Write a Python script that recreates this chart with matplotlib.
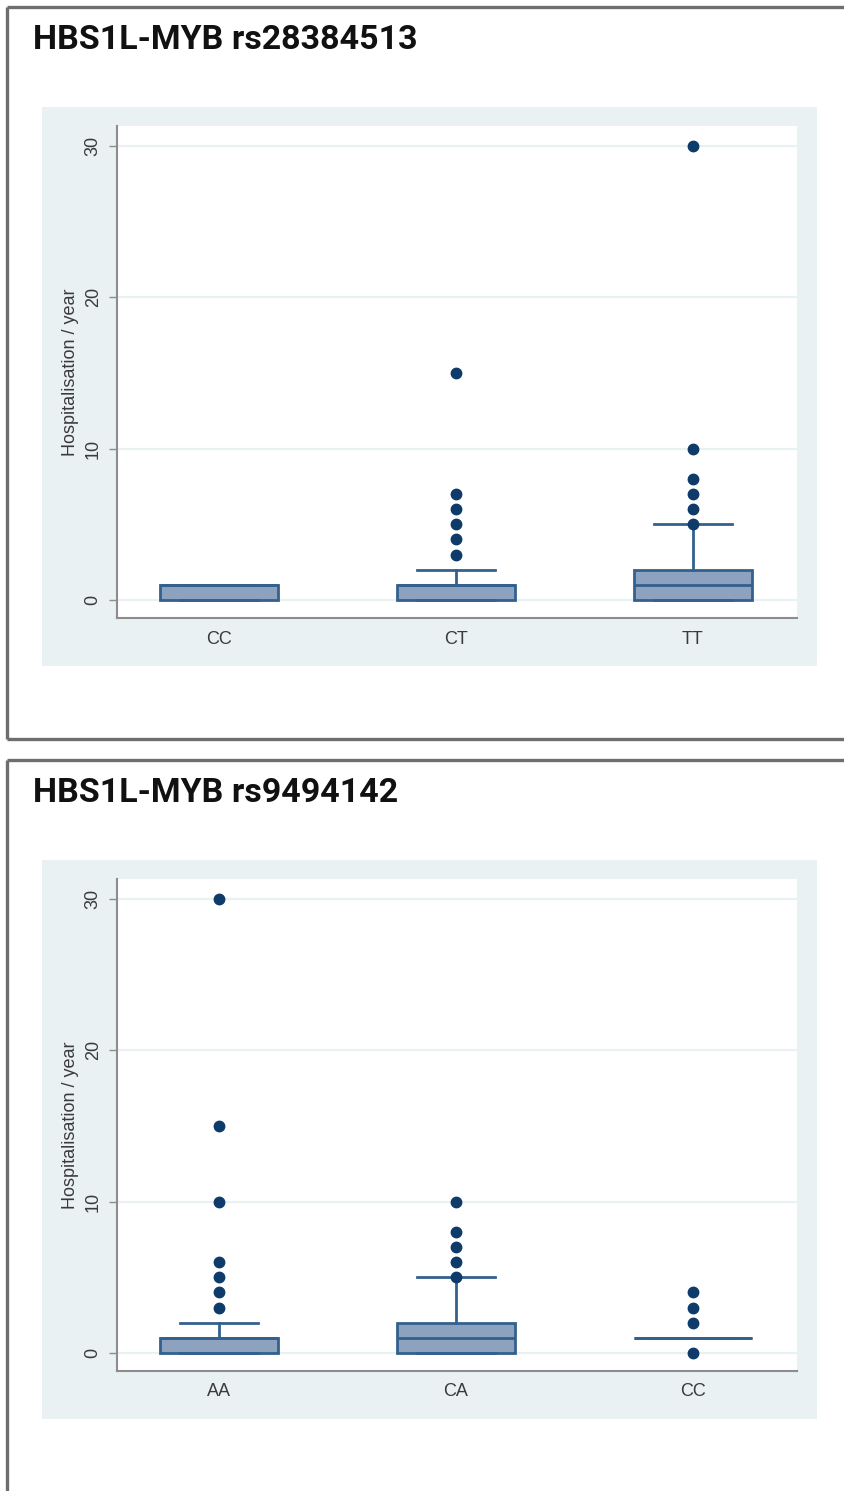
import matplotlib
matplotlib.use("Agg")
import matplotlib.pyplot as plt
from matplotlib.patches import Rectangle
from matplotlib.lines import Line2D

# data
titles = ["HBS1L-MYB rs28384513", "HBS1L-MYB rs9494142"]

cats_1 = ["CC", "CT", "TT"]
q1_1 = [0, 0, 0]
med_1 = [1, 1, 1]
q3_1 = [1, 1, 2]
whislo_1 = [0, 0, 0]
whishi_1 = [1, 2, 5]
fliers_1 = [[], [3, 4, 5, 6, 7, 15], [5, 6, 7, 8, 10, 30]]

cats_2 = ["AA", "CA", "CC"]
q1_2 = [0, 0, 1]
med_2 = [1, 1, 1]
q3_2 = [1, 2, 1]
whislo_2 = [0, 0, 1]
whishi_2 = [2, 5, 1]
fliers_2 = [[3, 4, 5, 6, 10, 15, 30], [5, 6, 7, 8, 10], [0, 2, 3, 4]]

yticks = [0, 10, 20, 30]
ylabel = "Hospitalisation / year"

W, H = 844, 1491
fig = plt.figure(figsize=(W / 100, H / 100), dpi=100)

BG = "#EAF1F3"
FILL = "#8CA2BE"
EDGE = "#33608D"
DOT = "#0F3B6B"
FRAME = "#6E6E6E"
TXT = "#3A3A3A"
label_font = ["Liberation Sans", "DejaVu Sans"]
title_font = ["DejaVu Sans Condensed", "Roboto", "DejaVu Sans"]


def px(x0, y0, x1, y1):
    # pixel box (top-left origin) -> figure fraction rect
    return [x0 / W, 1 - y1 / H, (x1 - x0) / W, (y1 - y0) / H]


def panel(off, title, cats, q1, med, q3, wlo, whi, fl):
    # outer frame (right edge runs off the picture)
    fr = dict(color=FRAME, lw=2.4, transform=fig.transFigure, solid_capstyle="butt")
    fig.add_artist(Line2D([7 / W, 1], [1 - (7 + off) / H] * 2, **fr))
    bottom = 739 + off
    fig.add_artist(Line2D([7 / W] * 2, [1 - (7 + off) / H, max(0, 1 - bottom / H)], **fr))
    if bottom < H:
        fig.add_artist(Line2D([7 / W, 1], [1 - bottom / H] * 2, **fr))

    fig.text(33 / W, 1 - (40 + off) / H, title, fontsize=24.5, fontweight="bold",
             family=title_font, va="center", ha="left", color="#111111")

    # graph region
    r = px(42, 107 + off, 817, 666 + off)
    fig.add_artist(Rectangle((r[0], r[1]), r[2], r[3], transform=fig.transFigure,
                             facecolor=BG, edgecolor="none", zorder=0))

    ax = fig.add_axes(px(117, 126 + off, 797, 618 + off))
    ax.set_facecolor("white")
    stats = []
    for i in range(len(cats)):
        stats.append(dict(q1=q1[i], med=med[i], q3=q3[i], whislo=wlo[i],
                          whishi=whi[i], fliers=fl[i], label=cats[i]))
    ax.bxp(stats, positions=[1, 2, 3], widths=0.5, capwidths=0.33,
           patch_artist=True,
           boxprops=dict(facecolor=FILL, edgecolor=EDGE, linewidth=2),
           medianprops=dict(color=EDGE, linewidth=2),
           whiskerprops=dict(color=EDGE, linewidth=2),
           capprops=dict(color=EDGE, linewidth=2),
           flierprops=dict(marker="o", markersize=7.5, markerfacecolor=DOT,
                           markeredgecolor=DOT, linestyle="none"),
           zorder=3)

    ax.set_xlim(0.57, 3.44)
    ax.set_ylim(-1.19, 31.33)
    ax.set_yticks(yticks)
    ax.yaxis.grid(True, color=BG, linewidth=1.6)
    ax.set_axisbelow(True)
    for s in ["top", "right"]:
        ax.spines[s].set_visible(False)
    for s in ["left", "bottom"]:
        ax.spines[s].set_color("#8C8C8C")
        ax.spines[s].set_linewidth(1.5)
    ax.tick_params(axis="x", length=0, pad=9, labelsize=13, labelcolor=TXT)
    ax.tick_params(axis="y", length=6, width=1, color="#8C8C8C", pad=5,
                   labelsize=13, labelcolor=TXT, labelrotation=90)
    for t in ax.get_yticklabels():
        t.set_va("center")
        t.set_family(label_font)
    for t in ax.get_xticklabels():
        t.set_family(label_font)
    ax.set_ylabel(ylabel, fontsize=13, color=TXT, family=label_font)
    ax.yaxis.set_label_coords(-(117 - 79) / (797 - 117), 0.5 + (372 - (126 + 618) / 2) / -(618 - 126))


panel(0, titles[0], cats_1, q1_1, med_1, q3_1, whislo_1, whishi_1, fliers_1)
panel(753, titles[1], cats_2, q1_2, med_2, q3_2, whislo_2, whishi_2, fliers_2)

fig.savefig("out.png", dpi=100)
